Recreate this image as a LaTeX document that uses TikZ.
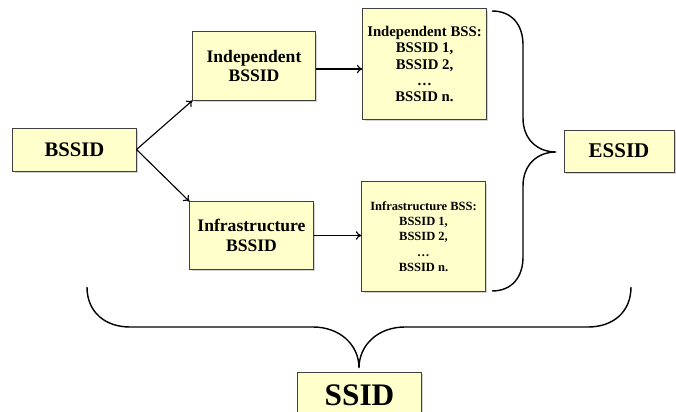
\documentclass[tikz,border=0pt]{standalone}
\usepackage{fontspec}
\setmainfont{Liberation Serif}
\usetikzlibrary{shadows,arrows.meta}
\definecolor{boxfill}{HTML}{FFFFCC}
\tikzset{
  idbox/.style={draw=black!75,fill=boxfill,line width=0.7pt,align=center,
    inner sep=0pt,
    drop shadow={shadow xshift=1.2pt,shadow yshift=-1.2pt,opacity=0.35}},
  link/.style={-{To[length=4pt,width=6pt]},line width=0.8pt},
  brace/.style={line width=1pt}
}
\begin{document}
\begin{tikzpicture}[x=0.025cm,y=-0.025cm]
\useasboundingbox (0,0) rectangle (676,412);
\node[idbox,minimum width=3.075cm,minimum height=1.075cm,font=\fontsize{14.7}{17}\selectfont\bfseries] (bssid) at(74.5,149.5){BSSID};
\node[idbox,minimum width=3.05cm,minimum height=1.7cm,font=\fontsize{12.5}{14.2}\selectfont\bfseries] (indep) at(254,66){Independent\\BSSID};
\node[idbox,minimum width=3.075cm,minimum height=1.675cm,font=\fontsize{12.5}{14.2}\selectfont\bfseries] (infra) at(251.5,235.5){Infrastructure\\BSSID};
\node[idbox,minimum width=3.075cm,minimum height=2.75cm,font=\fontsize{10.5}{11.5}\selectfont\bfseries] (indbss) at(424.5,64){Independent BSS:\\BSSID 1,\\BSSID 2,\\\dots\\BSSID n.};
\node[idbox,minimum width=3.075cm,minimum height=2.725cm,font=\fontsize{8.9}{10.9}\selectfont\bfseries] (infbss) at(423.5,236.5){Infrastructure BSS:\\BSSID 1,\\BSSID 2,\\\dots\\BSSID n.};
\node[idbox,minimum width=2.75cm,minimum height=1.05cm,font=\fontsize{14.9}{17}\selectfont\bfseries] (essid) at(619,151){ESSID};
\node[idbox,minimum width=3.075cm,minimum height=1.15cm,font=\fontsize{22.3}{25}\selectfont\bfseries] (ssid) at(359.5,395){SSID};
\draw[link] (bssid.east) -- (indep.south west);
\draw[link] (bssid.east) -- (infra.north west);
\draw[link] ([yshift=-0.075cm]indep.east) -- ([yshift=-0.075cm]indep.east -| indbss.west);
\draw[link] (infra.east) -- (infra.east -| infbss.west);
% brace towards ESSID
\draw[brace] (492,11) .. controls (512,11) and (523,25) .. (523,45) -- (523,118)
  .. controls (523,140) and (538,152) .. (556,152)
  .. controls (538,152) and (523,164) .. (523,186) -- (523,257)
  .. controls (523,277) and (512,291) .. (492,291);
% brace towards SSID
\draw[brace] (87,287) .. controls (87,312) and (105,327) .. (130,327) -- (313,327)
  .. controls (340,327) and (359,345) .. (359,368)
  .. controls (359,345) and (378,327) .. (405,327) -- (588,327)
  .. controls (613,327) and (631,312) .. (631,287);
\end{tikzpicture}
\end{document}
